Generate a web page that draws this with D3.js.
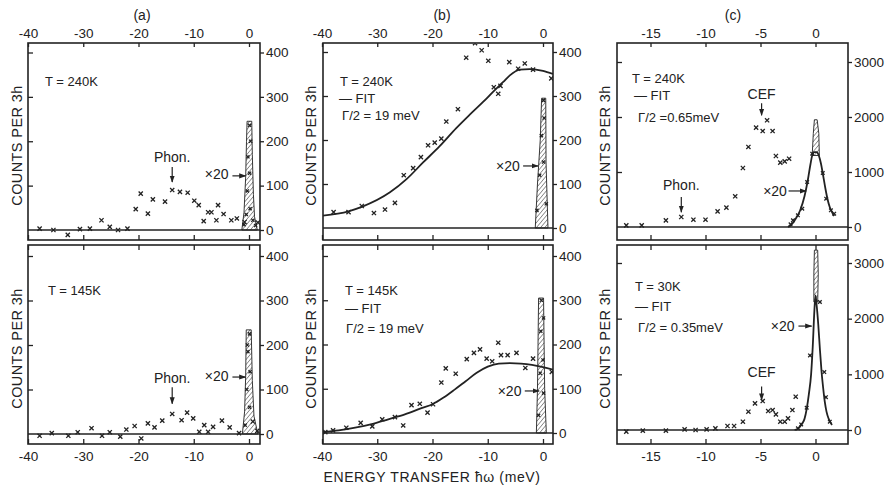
<!DOCTYPE html>
<html>
<head>
<meta charset="utf-8">
<script src="https://cdn.jsdelivr.net/npm/d3@7"></script>
<style>
  body { margin: 0; background: #fff; }
  svg { display: block; }
  text { font-family: "Liberation Sans", Arial, sans-serif; fill: #222; }
</style>
</head>
<body>
<svg id="fig" width="885" height="489"></svg>
<script>
// ---------- tick values ----------
const xTicksWide = [-40, -30, -20, -10, 0];
const xTicksNarrow = [-15, -10, -5, 0];
const yTicksLow = [0, 100, 200, 300, 400];
const yTicksHigh = [0, 1000, 2000, 3000];

// ---------- (a) T = 240 K : energy (meV), counts ----------
const aTopPts = [[-37.9,3],[-35.4,0],[-32.8,-11],[-30.6,2],[-28.8,3],[-26.7,22],[-25.2,7],[-23.7,0],[-22,3],
  [-20.5,47],[-19.6,82],[-18.3,37],[-17.4,69],[-15.2,64],[-13.9,90],[-12.5,86],[-11.1,84],[-9.9,66],[-9.1,56],
  [-8.2,20],[-7.4,40],[-6.8,40],[-5.9,22],[-5.6,56],[-4.6,36],[-3.2,22],[-2.2,26],[-0.8,18],[1.6,17]];
const aTopPeak = [[-1.3,0],[-0.9,40],[-0.6,120],[-0.45,200],[-0.35,245],[0.5,245],[0.6,170],[0.8,80],[1.0,30],[1.5,0]];
const aTopPeakPts = [[-0.9,12],[-0.5,35],[0.2,48],[-0.3,88],[0.1,128],[-0.2,165],[0.3,200],[0.1,236],[0.7,22],[1.2,10]];

// ---------- (a) T = 145 K ----------
const aBotPts = [[-37.9,-4],[-35.7,2],[-32.7,-4],[-31,4],[-28.5,13],[-26.6,-4],[-25.2,4],[-23.3,-6],[-22.2,10],
  [-20.7,18],[-19.5,-10],[-18.3,24],[-17.1,15],[-15.7,30],[-13.9,45],[-12.2,31],[-11.2,48],[-10.1,35],[-9,5],
  [-8.1,20],[-7.4,5],[-6.5,16],[-4.9,30],[-3.5,15],[-1.8,2],[0.7,28],[1.5,7]];
const aBotPeak = [[-1.2,0],[-0.8,50],[-0.6,130],[-0.5,234],[0.4,234],[0.6,120],[0.9,40],[1.6,0]];
const aBotPeakPts = [[-0.7,20],[0.1,60],[-0.4,100],[0.2,140],[-0.2,185],[0.1,225],[-0.3,200]];

// ---------- (b) T = 240 K ----------
const bTopPts = [[-37.9,36],[-35.2,36],[-32.8,50],[-30.6,34],[-28.6,42],[-26.8,57],[-25.2,120],[-23.5,136],
  [-22.1,161],[-20.8,188],[-19.6,194],[-18.4,203],[-17.5,242],[-15.4,270],[-13.9,387],[-12.3,420],[-11.1,404],
  [-9.9,380],[-8.9,320],[-8.1,305],[-7.7,323],[-6.1,377],[-4.5,362],[-3.3,374],[-1.8,360],[1.5,340]];
const bTopFit = [[-40,28],[-35.2,38],[-32.8,48],[-27.7,81],[-24.7,111],[-21.7,149],[-18.7,186],[-15.7,227],
  [-13.3,257],[-10.8,287],[-9,310],[-7.2,332],[-6,347],[-4.2,360],[-2.4,361],[0,357],[1.8,350]];
const bTopPeak = [[-1.4,0],[-1.0,100],[-0.5,200],[-0.25,295],[0.5,295],[0.55,150],[0.9,0]];
const bTopPeakPts = [[-1.1,40],[0.6,55],[-0.6,120],[0.1,150],[-0.3,210],[0.2,250],[0.1,290]];

// ---------- (b) T = 145 K ----------
const bBotPts = [[-39.4,2],[-38,6],[-35.6,12],[-33,23],[-30.9,15],[-29.1,31],[-26.8,36],[-25.3,17],[-23.8,63],
  [-22.3,66],[-20.9,46],[-19.9,65],[-18.4,114],[-17.6,146],[-15.8,134],[-13.8,167],[-12.5,181],[-11.4,189],
  [-10.2,168],[-9.2,162],[-8.1,204],[-7.6,176],[-6.4,176],[-4.8,181],[-3.2,147],[-1.8,168],[1.6,138]];
const bBotFit = [[-40,2],[-37,6],[-34,12],[-31,20],[-28,31],[-25,42],[-22,56],[-20,65],[-18,80],[-16,98],
  [-14,117],[-12,136],[-10,150],[-8,157],[-6,158],[-4,157],[-2,154],[0,149],[1.9,143]];
const bBotPeak = [[-1.2,0],[-1.0,100],[-0.9,200],[-0.8,305],[0.1,305],[0.2,200],[0.3,100],[0.6,0]];
const bBotPeakPts = [[-0.8,40],[0.1,90],[-0.5,135],[0,165],[-0.4,230],[0.1,260],[-0.3,300]];

// ---------- (c) T = 240 K ----------
const cTopPts = [[-17.2,30],[-15.8,30],[-13.6,121],[-12.2,182],[-11.1,133],[-10,133],[-8.9,285],[-8.1,352],
  [-7.3,558],[-6.6,1073],[-6.1,1455],[-5.4,1806],[-4.8,1745],[-4.4,1940],[-3.9,1745],[-3.6,1291],[-3.2,1170],
  [-2.8,1194],[-2.4,1242]];
const cTopFit = [[-2.5,0],[-2.2,40],[-1.8,150],[-1.4,300],[-1.0,560],[-0.7,850],[-0.45,1150],[-0.3,1300],
  [-0.1,1360],[0.1,1360],[0.3,1300],[0.5,1150],[0.7,930],[0.9,700],[1.1,500],[1.3,360],[1.5,270],[1.7,200]];
const cTopFitPts = [[-2.27,48],[-2.05,121],[-1.6,212],[-1.2,333],[-0.76,818],[-0.3,1333],[0.66,982],[0.97,515],[1.4,303],[1.7,242]];
const cTopPeak = [[-0.3,1300],[-0.2,1700],[-0.1,1950],[0.15,1950],[0.3,1700],[0.35,1300]];

// ---------- (c) T = 30 K ----------
const cBotPts = [[-17.2,-30],[-15.7,-12],[-13.6,-12],[-11.9,12],[-10.9,0],[-9.9,12],[-9.1,30],[-8,72],[-7.4,72],
  [-6.6,149],[-6.1,329],[-5.5,478],[-4.8,520],[-4.3,341],[-3.9,359],[-3.6,281],[-3.2,149],[-2.8,149],[-2.5,209],
  [-2.1,359],[-1.8,598]];
const cBotFit = [[-1.9,0],[-1.5,40],[-1.2,120],[-1.0,200],[-0.8,380],[-0.6,650],[-0.4,1000],[-0.25,1500],
  [-0.1,2150],[0,2420],[0.1,2250],[0.25,1900],[0.4,1450],[0.55,1050],[0.7,750],[0.85,500],[1.0,330],[1.2,200],[1.5,90]];
const cBotFitPts = [[-1.6,30],[-1.3,100],[-0.8,400],[-0.5,1340],[0.4,2300],[0.8,1040],[0.95,590],[1.3,150]];
const cBotPeak = [[-0.15,2300],[-0.15,2800],[-0.1,3230],[0.2,3230],[0.25,2800],[0.2,2300]];

// ---------- panel layout ----------
const cols = {
  a: { left: 28, right: 260, xd: [-40, 0], xr: [28, 249], ticks: xTicksWide, ylab: 17, title: "(a)", tx: 142 },
  b: { left: 323, right: 553, xd: [-40, 0], xr: [322, 543], ticks: xTicksWide, ylab: 311, title: "(b)", tx: 442 },
  c: { left: 617, right: 848, xd: [-15, 0], xr: [650.5, 815.5], ticks: xTicksNarrow, ylab: 605, title: "(c)", tx: 733 }
};
const rows = { top: { top: 43, bottom: 240 }, bot: { top: 245, bottom: 444 } };

const panels = [
  { col: "a", row: "top", yd: [0, 400], yr: [230, 52.5], yt: yTicksLow, pts: aTopPts, peak: aTopPeak, peakPts: aTopPeakPts,
    labels: [["T = 240K", 45, 86]], x20: { txt: [-3.7, 116], a: [-3.0, -0.6, 122] },
    note: { txt: "Phon.", e: -13.9, ct: 153, c0: 142, c1: 108 } },
  { col: "a", row: "bot", yd: [0, 400], yr: [434, 256], yt: yTicksLow, pts: aBotPts, peak: aBotPeak, peakPts: aBotPeakPts,
    labels: [["T = 145K", 48, 295]], x20: { txt: [-3.7, 118], a: [-3.0, -0.6, 128] },
    note: { txt: "Phon.", e: -13.9, ct: 114, c0: 105, c1: 68 } },
  { col: "b", row: "top", yd: [0, 400], yr: [228, 52], yt: yTicksLow, pts: bTopPts, fit: bTopFit, peak: bTopPeak, peakPts: bTopPeakPts,
    labels: [["T = 240K", 340, 86], ["— FIT", 339, 103], ["Γ/2 = 19 meV", 342, 120]], x20: { txt: [-4.2, 130], a: [-3.6, -0.9, 141] } },
  { col: "b", row: "bot", yd: [0, 400], yr: [433, 256], yt: yTicksLow, pts: bBotPts, fit: bBotFit, peak: bBotPeak, peakPts: bBotPeakPts,
    labels: [["T = 145K", 345, 295], ["— FIT", 345, 313], ["Γ/2 = 19 meV", 346, 333]], x20: { txt: [-3.9, 84], a: [-3.3, -0.7, 95] } },
  { col: "c", row: "top", yd: [0, 3000], yr: [227, 62], yt: yTicksHigh, pts: cTopPts, fit: cTopFit, fitPts: cTopFitPts, peak: cTopPeak,
    labels: [["T = 240K", 632, 83], ["— FIT", 634, 100], ["Γ/2 =0.65meV", 638, 122]], x20: { txt: [-2.6, 560], a: [-2.45, -0.85, 655] },
    note: { txt: "CEF", e: -4.9, ct: 2330, c0: 2250, c1: 2030 }, note2: { txt: "Phon.", e: -12.2, ct: 680, c0: 545, c1: 270 } },
  { col: "c", row: "bot", yd: [0, 3000], yr: [430, 263], yt: yTicksHigh, pts: cBotPts, fit: cBotFit, fitPts: cBotFitPts, peak: cBotPeak,
    labels: [["T = 30K", 635, 291], ["— FIT", 635, 311], ["Γ/2 = 0.35meV", 638, 332]], x20: { txt: [-1.9, 1780], a: [-1.55, -0.35, 1867] },
    note: { txt: "CEF", e: -4.9, ct: 950, c0: 780, c1: 540 } }
];

const ink = "#222";
const svg = d3.select("#fig");
const defs = svg.append("defs");
defs.append("pattern").attr("id", "hatch").attr("patternUnits", "userSpaceOnUse")
  .attr("width", 3.2).attr("height", 3.2).attr("patternTransform", "rotate(40)")
  .append("line").attr("x1", 0).attr("y1", 0).attr("x2", 0).attr("y2", 3.2)
  .attr("stroke", ink).attr("stroke-width", 0.9);
defs.append("marker").attr("id", "head").attr("viewBox", "0 0 10 10").attr("refX", 9).attr("refY", 5)
  .attr("markerWidth", 6).attr("markerHeight", 6).attr("orient", "auto")
  .append("path").attr("d", "M0,1.5L10,5L0,8.5Z").attr("fill", ink);

// column titles and y-axis names
Object.values(cols).forEach(c => {
  svg.append("text").attr("x", c.tx).attr("y", 20).attr("text-anchor", "middle")
    .attr("font-size", 14).text(c.title);
  [[43, 240], [245, 444]].forEach(([t, b]) => {
    const cy = (t + b) / 2 + 4;
    svg.append("text").attr("transform", `translate(${c.ylab + 5},${cy}) rotate(-90)`)
      .attr("text-anchor", "middle").attr("font-size", 14.5).attr("letter-spacing", 0.4)
      .text("COUNTS PER 3h");
  });
});
svg.append("text").attr("x", 432).attr("y", 482).attr("text-anchor", "middle")
  .attr("font-size", 14).attr("letter-spacing", 0.6).text("ENERGY TRANSFER ħω (meV)");

function cross(g, pts, x, y, s) {
  g.append("g").selectAll("path").data(pts).join("path")
    .attr("d", d => {
      const px = x(d[0]), py = y(d[1]);
      return `M${px - s},${py - s}L${px + s},${py + s}M${px - s},${py + s}L${px + s},${py - s}`;
    })
    .attr("stroke", ink).attr("stroke-width", 1.3).attr("fill", "none");
}

panels.forEach(p => {
  const c = cols[p.col], r = rows[p.row];
  const x = d3.scaleLinear().domain(c.xd).range(c.xr);
  const y = d3.scaleLinear().domain(p.yd).range(p.yr);
  const g = svg.append("g");

  // clip to the frame
  const clipId = `clip-${p.col}-${p.row}`;
  defs.append("clipPath").attr("id", clipId).append("rect")
    .attr("x", c.left).attr("y", r.top).attr("width", c.right - c.left).attr("height", r.bottom - r.top);
  const plot = g.append("g").attr("clip-path", `url(#${clipId})`);

  // zero line
  plot.append("line").attr("x1", c.left).attr("x2", c.right).attr("y1", y(0)).attr("y2", y(0))
    .attr("stroke", ink).attr("stroke-width", 1.4);

  // hatched elastic peak (x20)
  const outline = d3.line().x(d => x(d[0])).y(d => y(d[1]));
  plot.append("path").attr("d", outline(p.peak) + "Z").attr("fill", "url(#hatch)")
    .attr("stroke", ink).attr("stroke-width", 0.9);
  if (p.peakPts) cross(plot, p.peakPts, x, y, 1.6);

  // fit curve
  if (p.fit) {
    plot.append("path").attr("d", d3.line().curve(d3.curveMonotoneX).x(d => x(d[0])).y(d => y(d[1]))(p.fit))
      .attr("fill", "none").attr("stroke", ink).attr("stroke-width", 1.8);
  }
  if (p.fitPts) cross(plot, p.fitPts, x, y, 1.8);

  // data points
  cross(plot, p.pts, x, y, 2.1);

  // frame
  g.append("rect").attr("x", c.left).attr("y", r.top).attr("width", c.right - c.left).attr("height", r.bottom - r.top)
    .attr("fill", "none").attr("stroke", ink).attr("stroke-width", 1.6);

  // x axes
  const styleAxis = sel => {
    sel.select(".domain").remove();
    sel.selectAll("line").attr("stroke", ink).attr("stroke-width", 1.3);
    sel.selectAll("text").attr("font-size", 13.5).attr("fill", ink).attr("font-family", '"Liberation Sans", Arial, sans-serif');
  };
  const fmt = d => String(d);
  if (p.row === "top") {
    g.append("g").attr("transform", `translate(0,${r.top})`)
      .call(d3.axisTop(x).tickValues(c.ticks).tickSize(-4).tickPadding(5).tickFormat(fmt)).call(styleAxis);
    g.append("g").attr("transform", `translate(0,${r.bottom})`)
      .call(d3.axisBottom(x).tickValues(c.ticks).tickSize(-5).tickFormat("")).call(styleAxis);
  } else {
    g.append("g").attr("transform", `translate(0,${r.top})`)
      .call(d3.axisTop(x).tickValues(c.ticks).tickSize(-5).tickFormat("")).call(styleAxis);
    g.append("g").attr("transform", `translate(0,${r.bottom})`)
      .call(d3.axisBottom(x).tickValues(c.ticks).tickSize(-5).tickPadding(7).tickFormat(fmt)).call(styleAxis);
  }

  // y axes: labelled outside on the right, plain inward ticks on the left
  g.append("g").attr("transform", `translate(${c.right},0)`)
    .call(d3.axisRight(y).tickValues(p.yt).tickSize(4).tickPadding(2).tickFormat(fmt)).call(styleAxis);
  g.append("g").attr("transform", `translate(${c.left},0)`)
    .call(d3.axisRight(y).tickValues(p.yt.slice(1)).tickSize(5).tickFormat("")).call(styleAxis);

  // text labels inside panel
  p.labels.forEach(([t, lx, ly]) => {
    g.append("text").attr("x", lx).attr("y", ly).attr("font-size", 13).text(t);
  });

  // x20 label with arrow
  g.append("text").attr("x", x(p.x20.txt[0])).attr("y", y(p.x20.txt[1])).attr("text-anchor", "end")
    .attr("font-size", 14).text("×20");
  g.append("line").attr("x1", x(p.x20.a[0])).attr("x2", x(p.x20.a[1]))
    .attr("y1", y(p.x20.a[2])).attr("y2", y(p.x20.a[2]))
    .attr("stroke", ink).attr("stroke-width", 1.2).attr("marker-end", "url(#head)");

  // peak annotations
  [p.note, p.note2].filter(Boolean).forEach(n => {
    g.append("text").attr("x", x(n.e)).attr("y", y(n.ct)).attr("text-anchor", "middle")
      .attr("font-size", 14).text(n.txt);
    g.append("line").attr("x1", x(n.e)).attr("x2", x(n.e)).attr("y1", y(n.c0)).attr("y2", y(n.c1))
      .attr("stroke", ink).attr("stroke-width", 1.2).attr("marker-end", "url(#head)");
  });
});
</script>
</body>
</html>
